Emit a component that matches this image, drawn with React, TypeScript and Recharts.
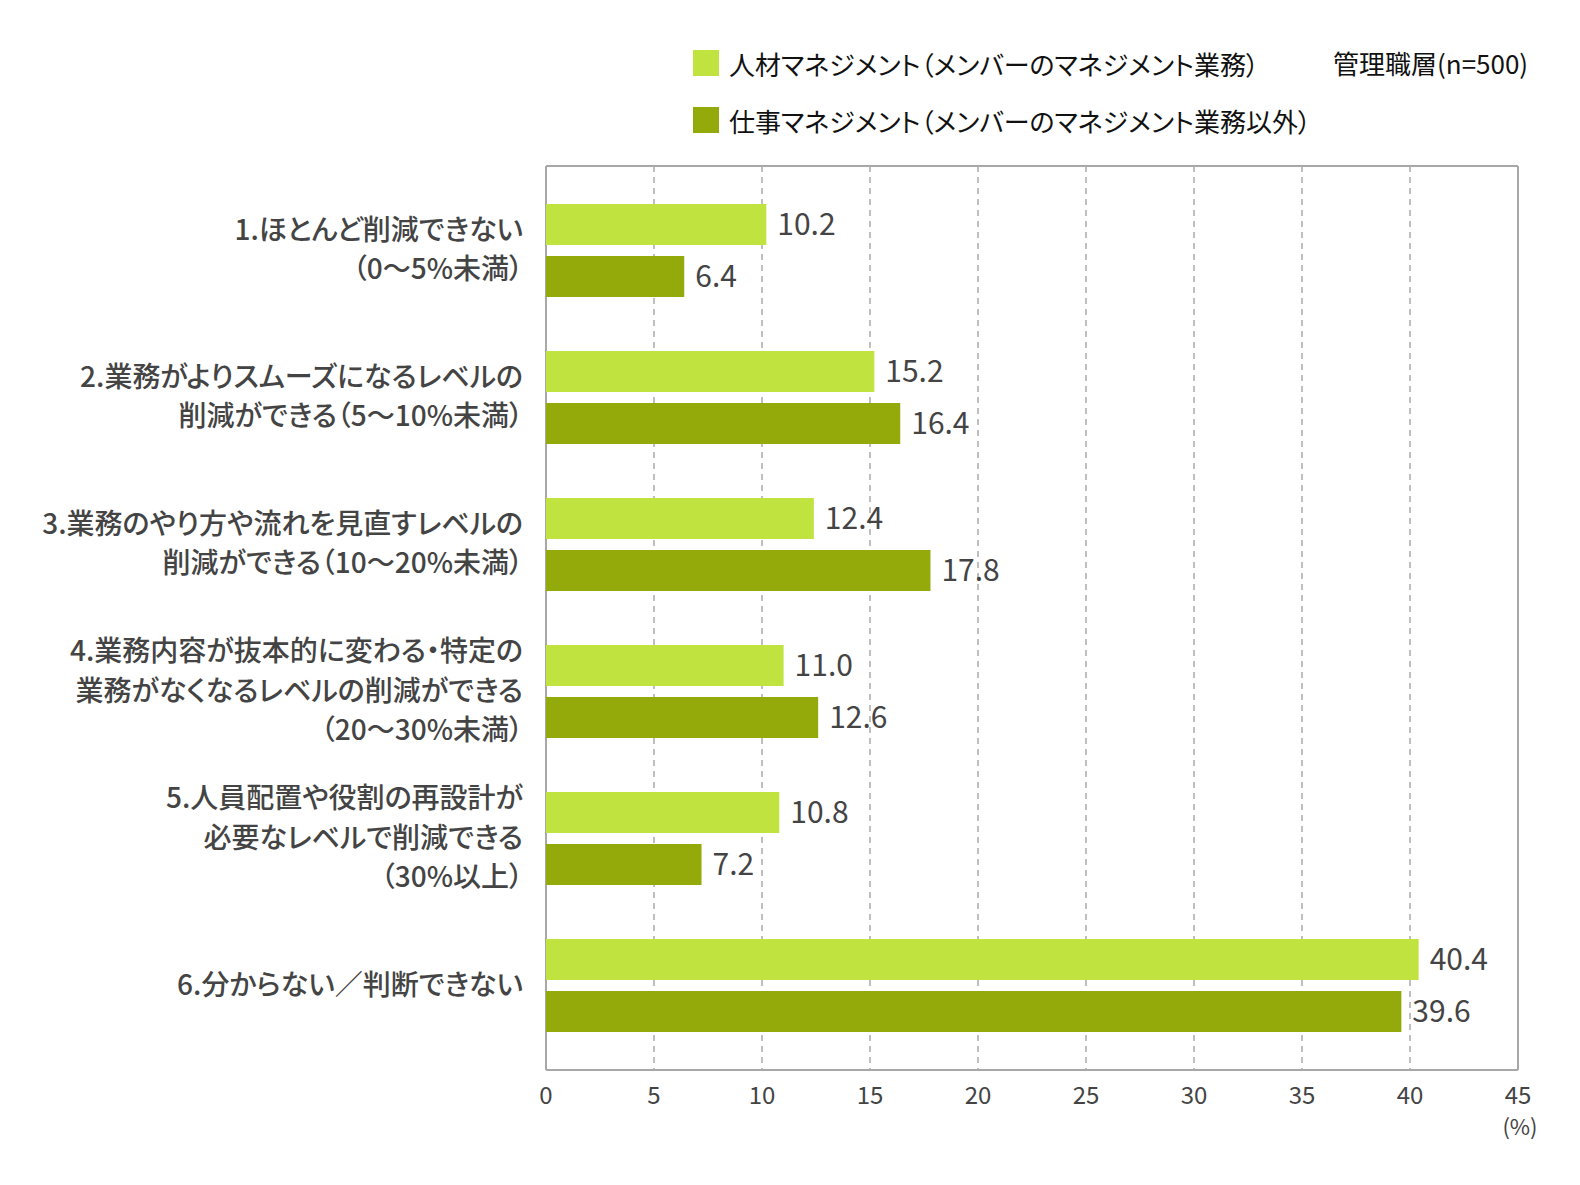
import {
  Bar,
  BarChart,
  CartesianGrid,
  LabelList,
  XAxis,
  YAxis,
} from 'recharts';

const CATEGORIES = [
  ['1.ほとんど削減できない', '（0～5%未満）'],
  ['2.業務がよりスムーズになるレベルの', '削減ができる（5～10%未満）'],
  ['3.業務のやり方や流れを見直すレベルの', '削減ができる（10～20%未満）'],
  ['4.業務内容が抜本的に変わる・特定の', '業務がなくなるレベルの削減ができる', '（20～30%未満）'],
  ['5.人員配置や役割の再設計が', '必要なレベルで削減できる', '（30%以上）'],
  ['6.分からない／判断できない'],
];
const PEOPLE_MGMT = [10.2, 15.2, 12.4, 11.0, 10.8, 40.4];
const WORK_MGMT = [6.4, 16.4, 17.8, 12.6, 7.2, 39.6];
const X_TICKS = [0, 5, 10, 15, 20, 25, 30, 35, 40, 45];

const SERIES = [
  { key: 'people', label: '人材マネジメント（メンバーのマネジメント業務）', color: '#c1e340' },
  { key: 'work', label: '仕事マネジメント（メンバーのマネジメント業務以外）', color: '#94aa0a' },
];

const FONT = '"Noto Sans CJK JP", "Noto Sans", sans-serif';
const TEXT = '#444444';
const PALT = { fontFeatureSettings: '"palt"' };

const data = CATEGORIES.map((_, i) => ({
  name: String(i),
  people: PEOPLE_MGMT[i],
  work: WORK_MGMT[i],
}));

const CategoryTick = (props: any) => {
  const { x, y, payload } = props;
  const lines = CATEGORIES[Number(payload.value)];
  const lh = 39.5;
  const start = y - 3 - ((lines.length - 1) * lh) / 2;
  return (
    <text
      x={x - 23}
      y={start}
      textAnchor="end"
      fill={TEXT}
      fontSize={28}
      fontWeight={500}
      fontFamily={FONT}
      dominantBaseline="central"
      style={PALT}
    >
      {lines.map((l, i) => (
        <tspan key={i} x={x - 23} y={start + i * lh}>
          {l}
        </tspan>
      ))}
    </text>
  );
};

const ValueTick = (props: any) => {
  const { x, y, payload } = props;
  return (
    <text
      x={x}
      y={y + 23}
      textAnchor="middle"
      dominantBaseline="central"
      fill={TEXT}
      fontSize={24}
      fontFamily={FONT}
    >
      {payload.value}
    </text>
  );
};

// solid frame around the plot area
const frameRows = ({ offset }: any) => [offset.top, offset.top + offset.height];
const frameCols = ({ offset }: any) => [offset.left, offset.left + offset.width];

const LegendBox = () => (
  <div
    style={{
      position: 'absolute',
      left: 0,
      top: 0,
      width: 1564,
      height: 150,
      fontFamily: FONT,
      ...PALT,
    }}
  >
    {SERIES.map((s, i) => (
      <div
        key={s.key}
        style={{
          position: 'absolute',
          left: 685,
          top: 42 + i * 57,
          display: 'flex',
          alignItems: 'center',
          height: 26,
        }}
      >
        <div style={{ width: 26, height: 26, background: s.color, marginRight: 10 }} />
        <span style={{ fontSize: 26, color: '#111', whiteSpace: 'nowrap' }}>{s.label}</span>
      </div>
    ))}
    <div
      style={{
        position: 'absolute',
        left: 1325,
        top: 42,
        height: 26,
        lineHeight: '26px',
        fontSize: 26,
        color: '#111',
        whiteSpace: 'nowrap',
      }}
    >
      管理職層(n=500)
    </div>
  </div>
);

export default function App() {
  return (
    <div style={{ position: 'relative', width: 1564, height: 1165 }}>
      <BarChart
        width={1564}
        height={1165}
        data={data}
        layout="vertical"
        margin={{ top: 158, right: 54, bottom: 43, left: 0 }}
        barSize={41}
        barGap={11}
      >
        <CartesianGrid horizontal={false} stroke="#aaaaaa" strokeDasharray="6 5" strokeWidth={1.5} />
        <CartesianGrid
          stroke="#a8a8a8"
          strokeWidth={2}
          horizontalCoordinatesGenerator={frameRows}
          verticalCoordinatesGenerator={frameCols}
        />
        <XAxis
          type="number"
          domain={[0, 45]}
          ticks={X_TICKS}
          interval={0}
          axisLine={false}
          tickLine={false}
          tickSize={0}
          tickMargin={0}
          height={60}
          tick={<ValueTick />}
          label={{
            content: () => (
              <text
                x={1512}
                y={1117}
                textAnchor="middle"
                dominantBaseline="central"
                fill={TEXT}
                fontSize={22}
                fontFamily={FONT}
              >
                (%)
              </text>
            ),
          }}
        />
        <YAxis
          type="category"
          dataKey="name"
          width={538}
          axisLine={false}
          tickLine={false}
          tickSize={0}
          tickMargin={0}
          interval={0}
          padding={{ top: 11, bottom: 11 }}
          tick={<CategoryTick />}
        />
        {SERIES.map((s) => (
          <Bar key={s.key} dataKey={s.key} fill={s.color} isAnimationActive={false}>
            <LabelList
              dataKey={s.key}
              position="right"
              offset={11}
              fill={TEXT}
              fontSize={30}
              fontFamily={FONT}
              formatter={(v: any) => Number(v).toFixed(1)}
            />
          </Bar>
        ))}
      </BarChart>
      <LegendBox />
    </div>
  );
}
